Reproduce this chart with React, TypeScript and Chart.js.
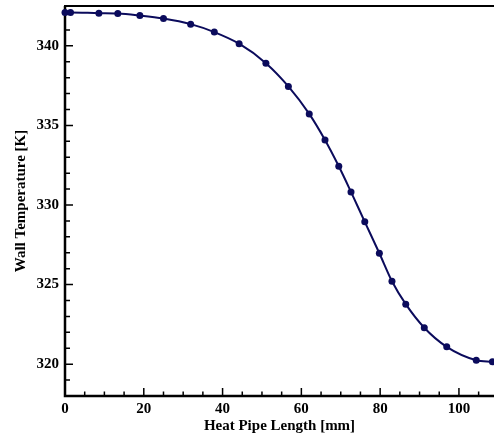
import React, { useEffect, useRef } from "react";
import { Chart, registerables } from "chart.js";

Chart.register(...registerables);

// Data
const lengthMm = [0, 1.4, 8.6, 13.4, 19.0, 25.0, 31.9, 37.9, 44.2, 51.0, 56.7, 62.0, 66.0, 69.5, 72.6, 76.1, 79.8, 83.0, 86.5, 91.2, 96.9, 104.4, 108.5];
const wallTempK = [342.09, 342.09, 342.05, 342.03, 341.9, 341.71, 341.36, 340.86, 340.13, 338.91, 337.45, 335.72, 334.08, 332.43, 330.82, 328.94, 326.97, 325.21, 323.77, 322.29, 321.09, 320.25, 320.15];

const xTickLabels = [0, 20, 40, 60, 80, 100];
const xMinorTicks = [5, 10, 15, 25, 30, 35, 45, 50, 55, 65, 70, 75, 85, 90, 95, 105];
const yTickLabels = [320, 325, 330, 335, 340];
const yMinorTicks = [318, 319, 321, 322, 323, 324, 326, 327, 328, 329, 331, 332, 333, 334, 336, 337, 338, 339, 341, 342];

const X_MIN = 0;
const X_MAX = 108.9;
const Y_MIN = 318;
const Y_MAX = 342.5;

const FONT = "'Liberation Serif', 'Times New Roman', serif";
const LINE_COLOR = "#0b0b5c";

const framePlugin = {
  id: "frame",
  beforeDatasetsDraw(chart: any) {
    const { ctx, chartArea } = chart;
    const xs = chart.scales.x;
    const ys = chart.scales.y;
    const { left, right, top, bottom } = chartArea;
    ctx.save();
    ctx.strokeStyle = "#000";
    // ticks (inward)
    ctx.lineWidth = 1.5;
    ctx.beginPath();
    for (const v of xTickLabels) {
      const px = xs.getPixelForValue(v);
      ctx.moveTo(px, bottom);
      ctx.lineTo(px, bottom - 8);
    }
    for (const v of xMinorTicks) {
      const px = xs.getPixelForValue(v);
      ctx.moveTo(px, bottom);
      ctx.lineTo(px, bottom - 4.5);
    }
    for (const v of yTickLabels) {
      const py = ys.getPixelForValue(v);
      ctx.moveTo(left, py);
      ctx.lineTo(left + 8, py);
    }
    for (const v of yMinorTicks) {
      const py = ys.getPixelForValue(v);
      ctx.moveTo(left, py);
      ctx.lineTo(left + 5, py);
    }
    ctx.stroke();
    // frame
    ctx.lineWidth = 2.5;
    ctx.beginPath();
    ctx.moveTo(left, top);
    ctx.lineTo(left, bottom);
    ctx.lineTo(right, bottom);
    ctx.stroke();
    ctx.lineWidth = 2;
    ctx.beginPath();
    ctx.moveTo(left - 1, top);
    ctx.lineTo(right, top);
    ctx.stroke();
    ctx.restore();
  },
};

export default function App() {
  const canvasRef = useRef<HTMLCanvasElement | null>(null);

  useEffect(() => {
    document.body.style.margin = "0";
    const canvas = canvasRef.current;
    if (!canvas) return;
    const chart = new Chart(canvas, {
      type: "line",
      data: {
        datasets: [
          {
            data: lengthMm.map((x, i) => ({ x, y: wallTempK[i] })),
            borderColor: LINE_COLOR,
            backgroundColor: LINE_COLOR,
            borderWidth: 2,
            pointRadius: 3.5,
            pointBorderWidth: 0,
            pointBackgroundColor: LINE_COLOR,
            cubicInterpolationMode: "monotone",
            fill: false,
            clip: false as any,
          },
        ],
      },
      options: {
        animation: false,
        responsive: false,
        devicePixelRatio: 1,
        layout: { autoPadding: false, padding: { top: 6, left: 0, right: 0, bottom: 0 } },
        plugins: {
          legend: { display: false },
          tooltip: { enabled: false },
        },
        scales: {
          x: {
            type: "linear",
            min: X_MIN,
            max: X_MAX,
            afterBuildTicks: (scale: any) => {
              scale.ticks = xTickLabels.map((v) => ({ value: v }));
            },
            afterFit: (scale: any) => {
              scale.height = 38;
              scale.paddingLeft = 0;
              scale.paddingRight = 0;
            },
            grid: { display: false, drawTicks: false },
            border: { display: false },
            ticks: {
              padding: 4,
              color: "#000",
              maxRotation: 0,
              autoSkip: false,
              font: { family: FONT, size: 15, weight: "bold" },
            },
            title: {
              display: true,
              text: "Heat Pipe Length [mm]",
              color: "#000",
              padding: { top: 0, bottom: -1.5 },
              font: { family: FONT, size: 15, weight: "bold" },
            },
          },
          y: {
            type: "linear",
            min: Y_MIN,
            max: Y_MAX,
            afterBuildTicks: (scale: any) => {
              scale.ticks = yTickLabels.map((v) => ({ value: v }));
            },
            afterFit: (scale: any) => {
              scale.width = 65;
              scale.paddingTop = 0;
              scale.paddingBottom = 0;
            },
            grid: { display: false, drawTicks: false },
            border: { display: false },
            ticks: {
              padding: 6,
              color: "#000",
              autoSkip: false,
              font: { family: FONT, size: 15, weight: "bold" },
            },
            title: {
              display: true,
              text: "Wall Temperature [K]",
              color: "#000",
              padding: { top: 12, bottom: 0 },
              font: { family: FONT, size: 15, weight: "bold" },
            },
          },
        },
      },
      plugins: [framePlugin],
    });
    return () => chart.destroy();
  }, []);

  return (
    <div style={{ position: "absolute", left: 0, top: 0, width: 494, height: 434 }}>
      <canvas ref={canvasRef} width={494} height={434} style={{ width: 494, height: 434 }} />
    </div>
  );
}
